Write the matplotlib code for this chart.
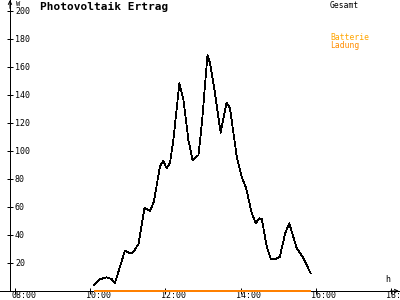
import matplotlib
matplotlib.use("Agg")
import matplotlib.pyplot as plt

# ---- data ----
hours = [10.09, 10.25, 10.43, 10.57, 10.65, 10.92, 11.01, 11.13, 11.28, 11.44,
         11.59, 11.69, 11.85, 11.94, 12.03, 12.12, 12.21, 12.37, 12.48, 12.61,
         12.72, 12.88, 12.97, 13.12, 13.19, 13.32, 13.47, 13.63, 13.72, 13.90,
         14.03, 14.15, 14.30, 14.41, 14.50, 14.57, 14.70, 14.81, 14.92, 15.05,
         15.19, 15.30, 15.50, 15.68, 15.87]
gesamt = [4.3, 8.4, 9.8, 8.4, 5.5, 29.0, 27.4, 27.4, 33.6, 59.5,
          57.1, 63.8, 88.8, 93.1, 87.6, 91.6, 107.9, 148.4, 136.4, 107.9,
          93.6, 97.1, 119.8, 168.6, 162.6, 141.2, 113.1, 134.5, 130.5, 95.9,
          81.6, 73.4, 55.5, 48.4, 51.9, 51.2, 31.6, 22.9, 22.6, 24.5,
          41.2, 48.4, 30.5, 23.4, 12.6]
ladung_hours = [10.09, 15.87]
ladung = [0, 0]

x_ticks = [8, 10, 12, 14, 16, 18]
x_labels = ["08:00", "10:00", "12:00", "14:00", "16:00", "18:00"]
y_ticks = [20, 40, 60, 80, 100, 120, 140, 160, 180, 200]
y_labels = [str(v) for v in y_ticks]

title = "Photovoltaik Ertrag"
legend_gesamt = "Gesamt"
legend_batt = ["Batterie", "Ladung"]

# ---- figure ----
plt.rcParams['font.family'] = ['DejaVu Sans Mono']
fig = plt.figure(figsize=(4, 3), dpi=100)
ax = fig.add_axes([0, 0, 1, 1])
XMIN, XMAX = 7.587, 18.253
YMIN, YMAX = -6.43, 207.9
YAX = 7.853
LW = 0.72
ax.set_xlim(XMIN, XMAX)
ax.set_ylim(YMIN, YMAX)
ax.set_facecolor('white')

for s in ['top', 'right']:
    ax.spines[s].set_visible(False)
ax.spines['left'].set_position(('data', YAX))
ax.spines['bottom'].set_position(('data', 0))
ax.spines['left'].set_bounds(0, YMAX)
for s in ['left', 'bottom']:
    ax.spines[s].set_linewidth(LW)
    ax.spines[s].set_antialiased(False)

ax.set_xticks(x_ticks)
ax.set_xticklabels([])
ax.set_yticks(y_ticks)
ax.set_yticklabels([])
ax.tick_params(direction='inout', length=5, width=LW, color='black')

for xv, lab in zip(x_ticks, x_labels):
    ax.annotate(lab, xy=(xv, 0), xytext=(-3, -0.3), textcoords='offset points',
                ha='left', va='top', fontsize=6, color='black')
for yv, lab in zip(y_ticks, y_labels):
    ax.annotate(lab, xy=(YAX, yv), xytext=(3.6, 0), textcoords='offset points',
                ha='left', va='center', fontsize=6, color='black')

# axis arrows
ax.annotate('', xy=(YAX, YMAX), xytext=(YAX, YMAX - 6),
            arrowprops=dict(arrowstyle='->', lw=LW, color='black',
                            shrinkA=0, shrinkB=0, mutation_scale=6))
ax.annotate('', xy=(XMAX - 0.03, 0), xytext=(XMAX - 0.25, 0),
            arrowprops=dict(arrowstyle='->', lw=LW, color='black',
                            shrinkA=0, shrinkB=0, mutation_scale=6))

# unit labels
ax.annotate('W', xy=(YAX, YMAX), xytext=(4.5, -0.5), textcoords='offset points',
            ha='left', va='top', fontsize=5, color='black')
ax.annotate('h', xy=(18.0, 0), xytext=(-4, 5), textcoords='offset points',
            ha='left', va='bottom', fontsize=6, color='black')

# series
ax.plot(hours, gesamt, color='black', lw=0.55, antialiased=False, zorder=3)
ax.plot(ladung_hours, ladung, color='#FF8000', lw=1.4, antialiased=False,
        zorder=4, solid_capstyle='butt')

# title & legend texts
fig.text(40 / 400, 1 - 2 / 300, title, fontsize=8, fontweight='bold',
         ha='left', va='top', color='black')
fig.text(330 / 400, 1 - 0.5 / 300, legend_gesamt, fontsize=5.8,
         ha='left', va='top', color='black')
fig.text(330 / 400, 1 - 32.5 / 300, legend_batt[0], fontsize=5.8,
         ha='left', va='top', color='#FFA500')
fig.text(330 / 400, 1 - 40.5 / 300, legend_batt[1], fontsize=5.8,
         ha='left', va='top', color='#FF8C00')

fig.savefig('out.png', dpi=100, facecolor='white')
